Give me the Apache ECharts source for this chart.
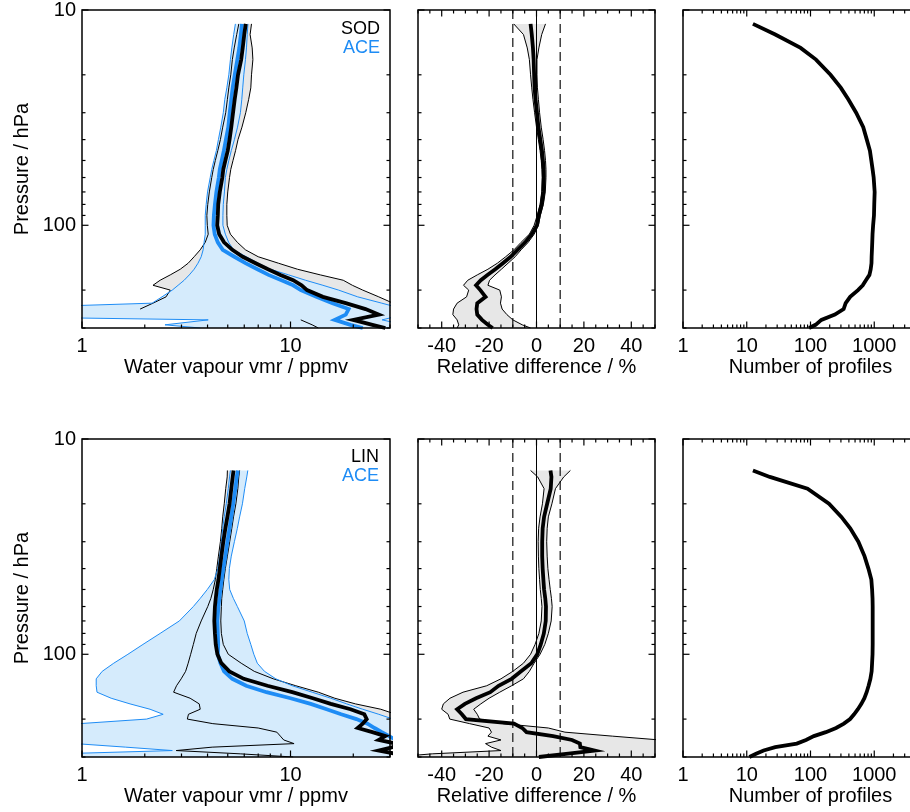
<!DOCTYPE html>
<html><head><meta charset="utf-8">
<script src="https://cdn.jsdelivr.net/npm/echarts@6/dist/echarts.min.js"></script>
<style>html,body{margin:0;padding:0;background:#fff}#c{width:910px;height:812px}</style>
</head><body><div id="c"></div>
<script>
// ---------------- data (top row) ----------------
const pTop = [11.6,13,15,17,20,23,26,30,35,40,45,50,55,60,70,80,90,100,110,120,130,140,150,160,170,180,190,200,215,230,245,260,275,290,300];
const sodMean = [6.1,6.0,5.9,5.8,5.6,5.5,5.4,5.3,5.2,5.1,5.0,4.87,4.76,4.71,4.58,4.5,4.48,4.45,4.55,4.8,5.26,5.9,6.8,7.8,8.95,10.3,11.3,12.0,14.3,18.4,22.9,26.5,20.0,24.7,28.5];
const sodLo = [5.65,5.52,5.37,5.26,5.17,5.06,4.98,4.89,4.73,4.61,4.48,4.36,4.26,4.19,4.08,4.01,3.97,3.99,4.03,3.9,3.69,3.45,3.23,2.96,2.65,2.37,2.19,2.65,2.53,2.19,1.9,null,11.2,12.7,13.6];
const sodHi = [6.5,6.4,6.55,6.6,6.5,6.45,6.3,6.1,5.85,5.6,5.45,5.3,5.17,5.1,5.0,4.95,4.95,4.97,5.15,5.56,6.08,7.0,8.75,10.8,13.9,17.9,19.8,22.2,26.5,31,40,40,40,40,40];
const aceTopMean = [5.85,5.78,5.68,5.56,5.4,5.28,5.2,5.11,5.03,4.9,4.79,4.68,4.58,4.53,4.41,4.34,4.29,4.27,4.33,4.48,4.73,5.38,6.08,6.94,7.84,9.05,10.3,11.2,13.3,15.9,19.0,18.4,16.3,19.4,22.2];
const aceTopLo = [5.44,5.34,5.23,5.15,5.06,4.95,4.84,4.76,4.63,4.51,4.41,4.29,4.19,4.12,4.0,3.94,3.9,3.9,3.9,3.85,3.81,3.73,3.6,3.45,3.27,3.09,2.89,2.71,2.42,2.17,0.28,0.07,4.03,2.5,3.69];
const aceTopHi = [6.25,6.2,6.15,6.08,5.97,5.9,5.84,5.75,5.57,5.38,5.2,5.06,4.95,4.87,4.82,4.76,4.74,4.74,4.87,5.05,5.33,6.13,7.0,8.0,9.8,11.8,14.3,17.0,21.0,27.4,35,35,27.5,35,35];
const diffTopMean = [-2.5,-2.0,-1.5,-1.2,-1.0,-0.8,-0.4,0.2,0.8,1.6,2.3,2.7,3.0,3.1,2.9,2.2,1.0,0.2,-2.0,-4.8,-8.0,-10.9,-14.2,-17.4,-20.7,-23.5,-25.5,-23.7,-21.5,-25,-25.3,-25,-23,-20.5,-18.5];
const diffTopLo = [-9.6,-5.5,-3.9,-3.0,-2.5,-2.0,-1.5,-0.8,0.0,0.8,1.5,2.0,2.3,2.4,2.2,1.5,0.3,-1.0,-3.0,-6.5,-9.5,-13,-16.5,-20.5,-25,-29,-30.8,-28.6,-29.5,-33.5,-35,-35.3,-33.5,-32.8,-33.5];
const diffTopHi = [3.8,2.2,1.0,0.2,0.2,0.4,0.8,1.3,2.0,2.8,3.4,3.8,4.0,4.0,3.7,2.9,1.6,0.8,-1.0,-3.5,-6.5,-9.0,-12,-14.8,-17.5,-19.8,-20.5,-15.5,-14.8,-15.2,-14.5,-12.5,-10,-6,-2.5];
const nTop = [12.5,28,70,122,206,300,391,520,672,764,855,900,942,979,1015,1000,990,960,940,930,920,910,905,880,840,740,660,556,419,356,331,241,148,120,95];

// ---------------- data (bottom row) ----------------
const pBot = [14,15,17,20,23,26,30,35,40,45,50,55,60,70,80,90,100,110,120,130,140,150,160,170,180,190,200,210,220,230,240,250,260,270,280,290,300];
const linMean = [5.33,5.28,5.2,5.1,4.98,4.87,4.76,4.66,4.58,4.51,4.43,4.38,4.34,4.31,4.34,4.38,4.46,4.66,5.09,5.97,7.75,10.2,12.8,15.6,19.4,22.6,23.2,22.2,21.0,24.7,28.5,26.5,32,31,26.5,32,32];
const linLo = [4.98,4.97,4.89,4.81,4.73,4.68,4.61,4.51,4.43,4.36,4.26,4.15,4.01,3.73,3.53,3.42,3.32,3.23,3.14,2.99,2.84,2.75,3.3,3.65,3.69,3.24,3.2,4.24,7.0,8.6,8.94,9.28,10.4,4.21,2.83,5.74,10.3];
const linHi = [5.7,5.65,5.59,5.47,5.33,5.23,5.11,4.98,4.87,4.79,4.73,4.68,4.66,4.63,4.66,4.76,5.03,5.8,6.7,8.27,10.6,13.6,16.3,20.5,27.1,32,32,32,32,32,32,32,32,32,32,32,32];
const aceBotMean = [5.59,5.52,5.44,5.31,5.2,5.1,4.98,4.87,4.76,4.68,4.61,4.56,4.51,4.46,4.48,4.5,4.48,4.61,4.8,5.26,6.13,7.67,10.0,12.5,14.9,17.5,20.7,23.4,25.3,27.4,29.7,32,32,32,32,32,32];
const aceBotLo = [5.15,5.1,5.03,4.92,4.81,4.73,4.66,4.58,4.48,4.31,3.99,3.69,3.42,2.93,2.37,1.96,1.66,1.42,1.25,1.17,1.17,1.18,1.38,1.70,2.12,2.45,2.04,0.97,0.3,0.3,0.3,0.3,0.93,1.62,2.71,0.77,0.3];
const aceBotHi = [6.24,6.17,6.03,5.88,5.7,5.56,5.38,5.2,5.09,5.06,5.11,5.32,5.56,6.0,6.2,6.45,6.67,6.93,7.5,8.5,10.2,12.7,15.6,18.6,22.2,26.5,31,40,40,40,40,40,40,40,40,40,40];
const diffBotMean = [5.9,6.3,6.0,4.5,3.2,2.6,2.4,2.4,2.6,2.9,3.2,3.7,4.0,3.9,3.1,1.8,0.3,-2.2,-6.5,-10.5,-16,-19.5,-25.5,-30.2,-33.5,-31.5,-29.8,-9.5,-6,-4.2,7,15,18.3,18.5,24.5,12.5,1];
const diffBotLo = [-2.5,0.5,3.2,2.5,1.5,0.9,0.7,0.8,1.0,1.3,1.6,2.0,2.3,2.0,1.0,-0.6,-2.5,-5.5,-10,-15,-21,-31,-36.5,-39.3,-40,-37.3,-36.6,-28.2,-20,-19,-20.5,-15,-21.5,-19,-15,-44,-60];
const diffBotHi = [14.3,11.5,8.0,6.5,5.0,4.5,4.3,4.5,4.8,5.3,5.8,6.3,6.6,6.2,5.0,3.5,1.5,-1.0,-3.0,-5.5,-10.5,-15.5,-20,-23.5,-26.5,-25,-24,-14,5,12,32,52,60,60,60,60,60];
const nBot = [12.5,23,90,195,305,420,563,703,810,900,925,940,945,945,945,945,940,925,910,870,815,760,700,628,554,483,418,334,252,174,113,85,61,28,18.4,14,11];

// ---------------- axes, ticks, labels ----------------
const pLabels = [10, 100];
const vmrLabels = [1, 10];
const diffLabels = [-40, -20, 0, 20, 40];
const nLabels = [1, 10, 100, 1000];
const pMajorTicks = [10, 100];
const pMinorTicks = [20, 30, 40, 50, 60, 70, 80, 90, 200, 300];
const vmrMajorTicks = [1, 10];
const vmrMinorTicks = [2, 3, 4, 5, 6, 7, 8, 9, 20, 30];
const diffMajorTicks = [-40, -20, 0, 20, 40];
const diffMinorTicks = [-50, -45, -35, -30, -25, -15, -10, -5, 5, 10, 15, 25, 30, 35, 45, 50];
const nMajorTicks = [1, 10, 100, 1000, 10000];
const nMinorTicks = [2,3,4,5,6,7,8,9,20,30,40,50,60,70,80,90,200,300,400,500,600,700,800,900,2000,3000,4000,5000,6000,7000,8000,9000];
const refLines = [-10, 0, 10];
const legendTop = ['SOD', 'ACE'];
const legendBot = ['LIN', 'ACE'];
const xTitles = ['Water vapour vmr / ppmv', 'Relative difference / %', 'Number of profiles'];
const yTitle = 'Pressure / hPa';

// ---------------- styling ----------------
const FONT = '"Liberation Sans", Arial, Helvetica, sans-serif';
const BLUE = '#1e8cf5';
const LIGHTBLUE = '#d5ebfc';
const GREY = '#e7e7e7';
const MAJ = 6.5, MIN = 3.5;

const grids = [
  {left:82, top:10, width:308, height:318},
  {left:418, top:10, width:237, height:318},
  {left:683, top:10, width:255, height:318},
  {left:82, top:439, width:308, height:318},
  {left:418, top:439, width:237, height:318},
  {left:683, top:439, width:255, height:318}
].map(g => Object.assign(g, {show:true, borderColor:'#000', borderWidth:1.5,
  backgroundColor:'rgba(0,0,0,0)', z:20, containLabel:false, outerBoundsMode:'none'}));

function fmt(labels) {
  return v => {
    const m = labels.find(l => Math.abs(l - v) < 1e-6 * Math.max(1, Math.abs(l)));
    return m === undefined ? '' : String(m);
  };
}
function makeX(gi, col) {
  const base = {gridIndex:gi, position:'bottom', axisLine:{show:false}, axisTick:{show:false},
    splitLine:{show:false}, minorTick:{show:false},
    name: xTitles[col], nameLocation:'middle', nameGap:29,
    nameTextStyle:{color:'#000', fontSize:20, fontFamily:FONT},
    axisLabel:{margin:8, color:'#000', fontSize:20, fontFamily:FONT}};
  if (col === 0) Object.assign(base, {type:'log', logBase:10, min:1, max:30});
  if (col === 1) Object.assign(base, {type:'value', min:-50, max:50, interval:10});
  if (col === 2) Object.assign(base, {type:'log', logBase:10, min:1, max:10000});
  base.axisLabel.formatter = fmt([vmrLabels, diffLabels, nLabels][col]);
  return base;
}
function makeY(gi, col) {
  return {gridIndex:gi, type:'log', logBase:10, min:10, max:300, inverse:true,
    axisLine:{show:false}, axisTick:{show:false}, splitLine:{show:false},
    axisLabel:{show:col === 0, margin:6, color:'#000', fontSize:20, fontFamily:FONT, formatter:fmt(pLabels)},
    name: col === 0 ? yTitle : '', nameLocation:'middle', nameGap:50,
    nameTextStyle:{color:'#000', fontSize:20, fontFamily:FONT}};
}

function band(gi, lo, hi, p, color, z) {
  return {type:'custom', xAxisIndex:gi, yAxisIndex:gi, z, clip:true, silent:true,
    data: p.map((pp, i) => [lo[i] == null ? '-' : lo[i], hi[i] == null ? '-' : hi[i], pp]),
    encode:{x:[0,1], y:2},
    renderItem(params, api) {
      if (params.dataIndex !== 0) return;
      const pts = [];
      for (let i = 0; i < p.length; i++) if (lo[i] != null) pts.push(api.coord([lo[i], p[i]]));
      for (let i = p.length - 1; i >= 0; i--) if (hi[i] != null) pts.push(api.coord([hi[i], p[i]]));
      return {type:'polygon', shape:{points:pts}, style:{fill:color}};
    }};
}
function line(gi, xs, p, color, width, z) {
  return {type:'line', xAxisIndex:gi, yAxisIndex:gi, z, silent:true, clip:true,
    symbol:'none', showSymbol:false, connectNulls:false,
    data: p.map((pp, i) => [xs[i] == null ? '-' : xs[i], pp]),
    lineStyle:{color, width, cap:'butt', join:'miter'}};
}
function vline(gi, v, dashed) {
  return {type:'line', xAxisIndex:gi, yAxisIndex:gi, z:3, silent:true, symbol:'none',
    data:[[v, 10], [v, 300]],
    lineStyle: dashed ? {color:'#222', width:1.3, type:[9,5]} : {color:'#000', width:1}};
}
function ticks(gi, xMaj, xMin, xRef, yRef, topTicks) {
  const data = [];
  xMaj.forEach(v => data.push([v, yRef, 0]));
  xMin.forEach(v => data.push([v, yRef, 1]));
  pMajorTicks.forEach(v => data.push([xRef, v, 2]));
  pMinorTicks.forEach(v => data.push([xRef, v, 3]));
  return {type:'custom', xAxisIndex:gi, yAxisIndex:gi, z:15, silent:true, clip:false, data,
    encode:{x:0, y:1},
    renderItem(params, api) {
      const cs = params.coordSys;
      const k = api.value(2);
      const pt = api.coord([api.value(0), api.value(1)]);
      const L = (k % 2 === 0) ? MAJ : MIN;
      const st = {stroke:'#000', lineWidth:1.2};
      if (k < 2) {
        const ch = [{type:'line', shape:{x1:pt[0], y1:cs.y + cs.height, x2:pt[0], y2:cs.y + cs.height - L}, style:st}];
        if (topTicks) ch.push({type:'line', shape:{x1:pt[0], y1:cs.y, x2:pt[0], y2:cs.y + L}, style:st});
        return {type:'group', children:ch};
      }
      return {type:'group', children:[
        {type:'line', shape:{x1:cs.x, y1:pt[1], x2:cs.x + L, y2:pt[1]}, style:st},
        {type:'line', shape:{x1:cs.x + cs.width, y1:pt[1], x2:cs.x + cs.width - L, y2:pt[1]}, style:st}]};
    }};
}

const xAxis = [], yAxis = [], series = [];
for (let r = 0; r < 2; r++) {
  for (let c = 0; c < 3; c++) {
    const gi = r * 3 + c;
    xAxis.push(makeX(gi, c));
    yAxis.push(makeY(gi, c));
  }
}
const rows = [
  {p:pTop, mean:sodMean, lo:sodLo, hi:sodHi, aMean:aceTopMean, aLo:aceTopLo, aHi:aceTopHi,
   dMean:diffTopMean, dLo:diffTopLo, dHi:diffTopHi, n:nTop},
  {p:pBot, mean:linMean, lo:linLo, hi:linHi, aMean:aceBotMean, aLo:aceBotLo, aHi:aceBotHi,
   dMean:diffBotMean, dLo:diffBotLo, dHi:diffBotHi, n:nBot}
];
rows.forEach((R, r) => {
  const g0 = r * 3, g1 = r * 3 + 1, g2 = r * 3 + 2;
  // panel 1
  series.push(band(g0, R.lo, R.hi, R.p, GREY, 1));
  series.push(band(g0, R.aLo, R.aHi, R.p, LIGHTBLUE, 2));
  series.push(line(g0, R.lo, R.p, '#000', 1, 4));
  series.push(line(g0, R.hi, R.p, '#000', 1, 4));
  series.push(line(g0, R.aLo, R.p, BLUE, 1, 4));
  series.push(line(g0, R.aHi, R.p, BLUE, 1, 4));
  series.push(line(g0, R.aMean, R.p, BLUE, 3.8, 5));
  series.push(line(g0, R.mean, R.p, '#000', 3.8, 6));
  series.push(ticks(g0, vmrMajorTicks, vmrMinorTicks, 10, 100, false));
  // panel 2
  series.push(band(g1, R.dLo, R.dHi, R.p, GREY, 1));
  refLines.forEach(v => series.push(vline(g1, v, v !== 0)));
  series.push(line(g1, R.dLo, R.p, '#000', 1, 4));
  series.push(line(g1, R.dHi, R.p, '#000', 1, 4));
  series.push(line(g1, R.dMean, R.p, '#000', 3.8, 6));
  series.push(ticks(g1, diffMajorTicks, diffMinorTicks, 0, 100, true));
  // panel 3
  series.push(line(g2, R.n, R.p, '#000', 3.8, 6));
  series.push(ticks(g2, nMajorTicks, nMinorTicks, 100, 100, true));
});

const graphic = [
  {type:'text', x:380, y:29, style:{text:legendTop[0], fill:'#000', fontSize:18, fontFamily:FONT, align:'right', verticalAlign:'middle'}},
  {type:'text', x:380, y:48, style:{text:legendTop[1], fill:BLUE, fontSize:18, fontFamily:FONT, align:'right', verticalAlign:'middle'}},
  {type:'text', x:379, y:457, style:{text:legendBot[0], fill:'#000', fontSize:18, fontFamily:FONT, align:'right', verticalAlign:'middle'}},
  {type:'text', x:379, y:476, style:{text:legendBot[1], fill:BLUE, fontSize:18, fontFamily:FONT, align:'right', verticalAlign:'middle'}}
];

const chart = echarts.init(document.getElementById('c'), null, {renderer:'canvas', width:910, height:812});
chart.setOption({animation:false, backgroundColor:'#fff', grid:grids, xAxis, yAxis, series, graphic});
</script>
</body></html>
